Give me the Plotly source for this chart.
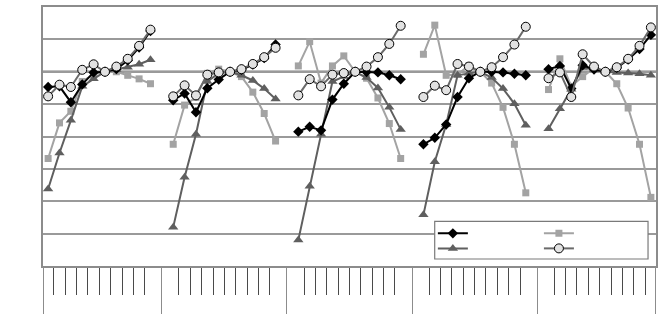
import plotly.graph_objects as go

# ---- data (index values, 5 groups x 10 points) ----
SLOTS_PER_GROUP = 11   # 10 points + one empty slot between groups
POINTS = 10

diamond = [
    [95.3, 95.5, 90.6, 96.1, 99.8, 100.0, 100.8, 103.5, 107.5, 112.6],
    [91.2, 93.3, 87.5, 94.9, 97.6, 100.0, 100.6, 102.2, 104.2, 108.4],
    [81.5, 83.0, 81.9, 91.4, 96.3, 100.0, 99.9, 99.8, 98.9, 97.7],
    [77.6, 79.6, 83.7, 92.2, 98.0, 100.0, 100.0, 99.8, 99.4, 98.9],
    [100.8, 101.8, 94.8, 102.0, 100.7, 100.0, 101.2, 103.8, 107.0, 111.4],
]
square = [
    [73.2, 84.2, 87.8, 97.0, 99.2, 100.0, 100.0, 98.9, 97.8, 96.3],
    [77.6, 89.7, 92.1, 99.5, 100.8, 100.0, 98.5, 93.7, 87.1, 78.6],
    [101.8, 109.3, 96.5, 101.8, 104.9, 100.0, 98.0, 91.9, 84.0, 73.2],
    [105.4, 114.4, 98.9, 99.2, 101.9, 100.0, 96.5, 89.0, 77.6, 62.6],
    [94.5, 104.0, 95.5, 98.5, 101.1, 100.0, 96.3, 88.8, 77.6, 61.2],
]
triangle = [
    [63.8, 74.9, 85.0, 95.5, 97.8, 100.0, 100.7, 101.4, 102.3, 103.7],
    [52.0, 67.4, 80.7, 97.0, 99.5, 100.0, 98.9, 97.3, 94.8, 91.6],
    [48.0, 64.6, 80.7, 97.0, 98.5, 100.0, 98.2, 95.0, 89.0, 82.2],
    [55.8, 72.2, 83.7, 98.9, 99.5, 100.0, 98.2, 94.8, 90.1, 83.5],
    [82.4, 88.6, 94.6, 101.3, 100.7, 100.0, 99.8, 99.6, 99.4, 98.9],
]
circle = [
    [92.4, 96.0, 95.3, 100.6, 102.3, 100.0, 101.6, 104.0, 108.0, 113.0],
    [92.4, 95.8, 92.7, 99.1, 99.8, 100.0, 100.8, 102.4, 104.5, 107.4],
    [92.7, 97.7, 95.5, 99.1, 99.6, 100.0, 101.6, 104.5, 108.6, 114.2],
    [92.2, 95.7, 94.3, 102.4, 101.6, 100.0, 101.4, 104.5, 108.4, 113.9],
    [98.0, 99.8, 92.2, 105.4, 101.6, 100.0, 101.4, 104.0, 108.0, 113.7],
]
N_GROUPS = len(circle)


def to_xy(groups):
    xs, ys = [], []
    for g, grp in enumerate(groups):
        for k, v in enumerate(grp):
            xs.append(g * SLOTS_PER_GROUP + k)
            ys.append(v)
        xs.append(None)
        ys.append(None)
    return xs, ys


fig = go.Figure()

styles = [
    ("square", square, dict(color="#a3a3a3", width=2),
     dict(symbol="square", size=7, color="#a3a3a3", line=dict(width=0)), "legend2"),
    ("triangle", triangle, dict(color="#5f5f5f", width=2),
     dict(symbol="triangle-up", size=9, color="#5f5f5f", line=dict(width=0)), "legend3"),
    ("diamond", diamond, dict(color="#000000", width=2),
     dict(symbol="diamond", size=8, color="#000000", line=dict(width=0)), "legend"),
    ("circle", circle, dict(color="#6a6a6a", width=2),
     dict(symbol="circle", size=9, color="#e2e2e2", line=dict(color="#000000", width=1)), "legend4"),
]
for name, vals, line, marker, leg in styles:
    x, y = to_xy(vals)
    fig.add_trace(go.Scatter(x=x, y=y, mode="lines+markers", name=" ",
                             line=line, marker=marker, connectgaps=False,
                             legend=leg, showlegend=True, hoverinfo="skip"))

# axis tick positions
major_ticks = [-0.449] + [g * SLOTS_PER_GROUP + POINTS for g in range(N_GROUPS - 1)] + [53.449]
minor_ticks = [g * SLOTS_PER_GROUP + k + 0.5 for g in range(N_GROUPS) for k in range(POINTS - 1)]

fig.update_layout(
    width=663, height=324,
    margin=dict(l=43, r=5, t=5, b=58),
    paper_bgcolor="white", plot_bgcolor="white",
    xaxis=dict(range=[-0.45, 53.45], showgrid=False, zeroline=False,
               showline=True, mirror=True, linecolor="#8c8c8c", linewidth=1.5,
               tickmode="array", tickvals=major_ticks, ticks="outside",
               ticklen=46, tickwidth=1.3, tickcolor="#8c8c8c", showticklabels=False,
               minor=dict(tickmode="array", tickvals=minor_ticks, ticks="outside",
                          ticklen=27, tickwidth=1, tickcolor="#4a4a4a", showgrid=False)),
    yaxis=dict(range=[40, 120], dtick=10, tick0=40, showgrid=True, gridcolor="#9a9a9a",
               gridwidth=1.5, zeroline=False, showline=True, mirror=True,
               linecolor="#8c8c8c", linewidth=1.5, ticks="", showticklabels=False),
    shapes=[
        dict(type="line", xref="paper", x0=0, x1=1, yref="y", y0=100, y1=100,
             line=dict(color="black", width=2), layer="below"),
        dict(type="line", xref="paper", x0=0, x1=1, yref="y", y0=60, y1=60,
             line=dict(color="black", width=1), layer="below"),
        dict(type="rect", xref="paper", yref="paper", x0=0.639, x1=0.987, y0=0.027, y1=0.172,
             fillcolor="white", line=dict(color="#7a7a7a", width=1.2), layer="above"),
    ],
)

leg_common = dict(bgcolor="rgba(0,0,0,0)", borderwidth=0, font=dict(size=8),
                  xanchor="left", yanchor="middle", itemwidth=30)
fig.update_layout(
    legend=dict(x=0.636, y=0.126, **leg_common),
    legend3=dict(x=0.636, y=0.068, **leg_common),
    legend2=dict(x=0.809, y=0.126, **leg_common),
    legend4=dict(x=0.809, y=0.068, **leg_common),
)

fig.write_html("out.html")
